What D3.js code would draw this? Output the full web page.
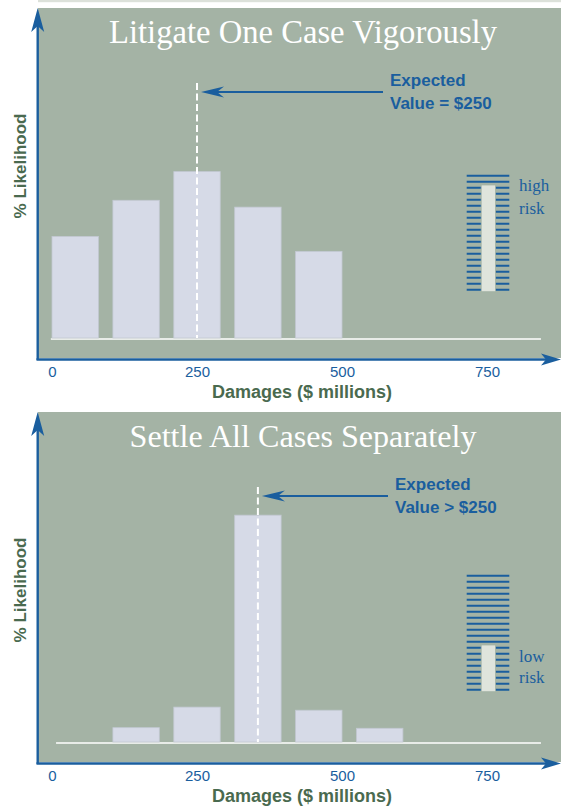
<!DOCTYPE html>
<html>
<head>
<meta charset="utf-8">
<script src="https://cdn.jsdelivr.net/npm/d3@7"></script>
<style>
  body { margin: 0; background: #fff; }
  svg { display: block; }
</style>
</head>
<body>
<svg id="chart" width="561" height="807"></svg>
<script>
// ---- data ----
const damageTicks = [0, 250, 500, 750]
const binWidth = 80                       // $ millions per bar

const litigateBins = [40, 145, 250, 355, 460]
const litigateLikelihood = [16.3, 22.1, 26.7, 21.0, 13.9]

const settleBins = [145, 250, 355, 460, 565]
const settleLikelihood = [2.3, 5.6, 36.4, 5.1, 2.2]

const panelTitles = ['Litigate One Case Vigorously', 'Settle All Cases Separately']
const expectedValues = [250, 355]
const expectedLabels = [['Expected', 'Value = $250'], ['Expected', 'Value > $250']]
const riskLevels = [18, 8]                // filled rungs out of 20
const riskLabels = [['high', 'risk'], ['low', 'risk']]
const riskRungs = 20

// ---- layout ----
const colors = {
    panel: '#a4b3a5',
    bar: '#d6dae7',
    barEdge: '#c2c8d2',
    blue: '#1a5e9e',
    axisTitle: '#4a6a4f',
    gauge: '#dfe4dc'
}

const layout = [
    { dy: 0, yLabel: 166, textX: 390, gaugeTop: 175.7, riskY: [190.7, 214] },
    { dy: 404, yLabel: 590, textX: 395, gaugeTop: 171.7, riskY: [257.7, 279.3] }
]

const panelsData = [
    { bins: litigateBins, values: litigateLikelihood },
    { bins: settleBins, values: settleLikelihood }
]

const svg = d3.select('#chart')

const x = d3.scaleLinear().domain([0, 750]).range([52, 487])
const baseY = 338
const y = d3.scaleLinear().domain([0, 50]).range([baseY, baseY - 311.6])

// light rule at the very top
svg.append('rect')
    .attr('x', 38).attr('y', 0).attr('width', 523).attr('height', 2.2)
    .attr('fill', '#dce1da')

function arrowHead(g, tipX, tipY, angle, len, half, notch) {
    g.append('path')
        .attr('d', `M0,0 L${-len},${-half} L${-len + notch},0 L${-len},${half} Z`)
        .attr('transform', `translate(${tipX},${tipY}) rotate(${angle})`)
        .attr('fill', colors.blue)
}

panelsData.forEach((d, i) => {
    const L = layout[i]
    const g = svg.append('g').attr('transform', `translate(0,${L.dy})`)

    // background
    g.append('rect')
        .attr('x', 38).attr('y', 8).attr('width', 523).attr('height', 350)
        .attr('fill', colors.panel)

    // title
    const title = g.append('text')
        .attr('x', 303).attr('y', 43)
        .attr('text-anchor', 'middle')
        .attr('fill', '#fff')
        .style('font-family', '"Liberation Serif", "DejaVu Serif", serif')
        .style('font-size', '30px')
        .text(panelTitles[i])
    const targetW = i === 0 ? 388 : 347
    const tw = title.node().getComputedTextLength()
    title.style('font-size', (30 * targetW / tw).toFixed(2) + 'px')

    // white baseline
    g.append('line')
        .attr('x1', x(i === 0 ? -2 : 7)).attr('x2', x(843))
        .attr('y1', baseY + 1).attr('y2', baseY + 1)
        .attr('stroke', '#fff').attr('stroke-width', 1.6)

    // bars
    g.selectAll('rect.bar')
        .data(d.bins.map((b, k) => ({ center: b, value: d.values[k] })))
        .enter().append('rect')
        .attr('class', 'bar')
        .attr('x', (e) => x(e.center - binWidth / 2))
        .attr('width', (e) => x(e.center + binWidth / 2) - x(e.center - binWidth / 2))
        .attr('y', (e) => y(e.value))
        .attr('height', (e) => y(0) - y(e.value))
        .attr('fill', colors.bar)
        .attr('stroke', colors.barEdge)
        .attr('stroke-width', 0.8)

    // expected value marker
    const ex = x(expectedValues[i])
    g.append('line')
        .attr('x1', ex).attr('x2', ex)
        .attr('y1', 83).attr('y2', baseY)
        .attr('stroke', '#fff').attr('stroke-width', 2)
        .attr('stroke-dasharray', '7,3.5')

    g.append('line')
        .attr('x1', L.textX - 7).attr('x2', ex + 20)
        .attr('y1', 92).attr('y2', 92)
        .attr('stroke', colors.blue).attr('stroke-width', 2)
    arrowHead(g, ex + 4, 92, 180, 23, 5.5, 7)

    g.append('text')
        .attr('x', L.textX).attr('y', 86)
        .attr('fill', colors.blue)
        .style('font-family', '"Liberation Sans", Arial, sans-serif')
        .style('font-weight', 'bold')
        .style('font-size', '17px')
        .selectAll('tspan')
        .data(expectedLabels[i])
        .enter().append('tspan')
        .attr('x', L.textX)
        .attr('dy', (t, k) => k === 0 ? 0 : 23)
        .text((t) => t)

    // risk gauge
    const rungY = d3.range(riskRungs).map((k) => L.gaugeTop + k * 6)
    g.selectAll('line.rung')
        .data(rungY)
        .enter().append('line')
        .attr('class', 'rung')
        .attr('x1', 466.7).attr('x2', 509.3)
        .attr('y1', (v) => v).attr('y2', (v) => v)
        .attr('stroke', colors.blue).attr('stroke-width', 2)
    const first = rungY[riskRungs - riskLevels[i]]
    const last = rungY[riskRungs - 1]
    g.append('rect')
        .attr('x', 481.2).attr('width', 14.2)
        .attr('y', first - 2.7).attr('height', last - first + 4.7)
        .attr('fill', colors.gauge)
        .attr('stroke', colors.panel).attr('stroke-width', 0.8)

    g.selectAll('text.risk')
        .data(riskLabels[i])
        .enter().append('text')
        .attr('class', 'risk')
        .attr('x', 519)
        .attr('y', (t, k) => L.riskY[k])
        .attr('fill', colors.blue)
        .style('font-family', '"Liberation Serif", serif')
        .style('font-size', '17px')
        .text((t) => t)

    // blue axes with arrows
    g.append('line')
        .attr('x1', 37.7).attr('x2', 37.7)
        .attr('y1', 360).attr('y2', 24)
        .attr('stroke', colors.blue).attr('stroke-width', 2.4)
    arrowHead(g, 37.7, 8, -90, 24, 6.5, 6)

    g.append('line')
        .attr('x1', 36.5).attr('x2', 548)
        .attr('y1', 359.5).attr('y2', 359.5)
        .attr('stroke', colors.blue).attr('stroke-width', 2.4)
    arrowHead(g, 561, 359.5, 0, 20, 6, 5)

    // tick labels
    const axis = g.append('g')
        .attr('transform', 'translate(0,376.5)')
        .call(d3.axisBottom(x).tickValues(damageTicks).tickSize(0).tickPadding(0))
    axis.select('.domain').remove()
    axis.selectAll('text')
        .attr('y', 0).attr('dy', 0)
        .attr('fill', colors.blue)
        .style('font-family', '"Liberation Sans", Arial, sans-serif')
        .style('font-size', '15px')

    g.append('text')
        .attr('x', 302).attr('y', 398)
        .attr('text-anchor', 'middle')
        .attr('fill', colors.axisTitle)
        .style('font-family', '"Liberation Sans", Arial, sans-serif')
        .style('font-weight', 'bold')
        .style('font-size', '18px')
        .text('Damages ($ millions)')

    g.append('text')
        .attr('transform', `translate(26,${L.yLabel - L.dy}) rotate(-90)`)
        .attr('text-anchor', 'middle')
        .attr('fill', colors.axisTitle)
        .style('font-family', '"Liberation Sans", Arial, sans-serif')
        .style('font-weight', 'bold')
        .style('font-size', '17px')
        .text('% Likelihood')
})
</script>
</body>
</html>
